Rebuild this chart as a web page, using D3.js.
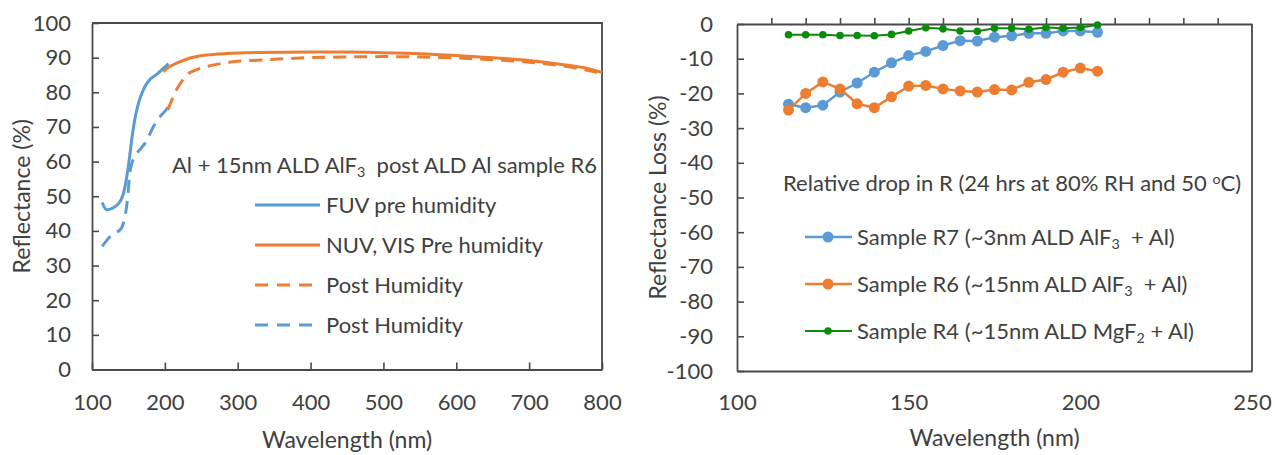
<!DOCTYPE html>
<html><head><meta charset="utf-8">
<script src="https://cdn.jsdelivr.net/npm/d3@7"></script>
<style>
body{margin:0;background:#fff}
text{font-family:Lato,'Open Sans',sans-serif;fill:#404040}
</style>
</head><body>
<svg id="c" width="1275" height="455"></svg>
<script>
// ---------- Left chart data ----------
const fuvPreWl  = [114,120,125,131,136,140,143,146,148,150,152,154,157,160,164,170,175,180,185,190,195,200,205];
const fuvPreR   = [48.2,46.1,46.3,46.9,47.8,49,50.8,53.5,56,58.8,62,65.5,70,73.5,77,80.5,82.5,83.8,84.6,85.4,86.3,87.3,88.3];
const fuvPostWl = [114,120,126,132,138,142,145,147.5,149.5,151.5,154,157,162,168,175,184,193,200,205];
const fuvPostR  = [35.5,37.2,38.6,39.5,40.2,41.5,44,47,51,56,59,60.8,62.5,64,66,70,72.9,74.5,75.8];
const nuvPreWl  = [198,205,216,228,239,260,285,331,400,450,500,550,600,650,700,750,780,800];
const nuvPreR   = [86,87.2,88.4,89.4,90.1,90.8,91.2,91.5,91.6,91.6,91.4,91.1,90.6,90,89.2,87.9,86.9,85.7];
const nuvPostWl = [204,209,214,222,230,243,257,275,294,331,400,450,500,550,600,650,700,750,800];
const nuvPostR  = [74.9,77.5,80,82.8,85,86.5,87.4,88.2,88.8,89.3,90,90.2,90.3,90.2,89.9,89.4,88.7,87.5,85.5];
const leftXTicks = [100,200,300,400,500,600,700,800];
const leftYTicks = [0,10,20,30,40,50,60,70,80,90,100];
const leftLegend = ["FUV pre humidity","NUV, VIS Pre humidity","Post Humidity","Post Humidity"];

// ---------- Right chart data ----------
const lossWl = [115,120,125,130,135,140,145,150,155,160,165,170,175,180,185,190,195,200,205];
const lossR7 = [-23.1,-24.1,-23.4,-19.6,-17.0,-13.9,-11.2,-9.1,-7.9,-6.2,-4.8,-4.9,-3.8,-3.4,-2.7,-2.7,-2.0,-2.0,-2.4];
const lossR6 = [-24.8,-20.0,-16.7,-18.7,-23.0,-24.1,-21.0,-17.9,-17.7,-18.7,-19.3,-19.6,-18.9,-19.0,-16.8,-16.0,-13.9,-12.7,-13.6];
const lossR4 = [-3.1,-3.1,-3.1,-3.3,-3.3,-3.4,-3.0,-2.0,-1.1,-1.4,-2.0,-2.1,-1.2,-1.2,-1.5,-1.0,-1.2,-1.0,-0.3];
const rightXLabels = [100,150,200,250];
const rightXMinor = [110,120,130,140,150,160,170,180,190,200,210,220,230,240];
const rightYTicks = [0,-10,-20,-30,-40,-50,-60,-70,-80,-90,-100];

const BLUE="#5B9BD5", ORANGE="#ED7D31", GREEN="#0B8A0B", AX="#4a4a4a", FS=22, FA=23;
const svg = d3.select("#c");
const plain = d => String(d);

// ================= LEFT =================
const L = {x0:92,x1:602,y0:369.5,y1:23};
const lx = d3.scaleLinear().domain([100,800]).range([L.x0,L.x1]);
const ly = d3.scaleLinear().domain([0,100]).range([L.y0,L.y1]);
const gL = svg.append("g");

function styleAxis(g){
  g.selectAll("path.domain").attr("stroke",AX).attr("stroke-width",1.8);
  g.selectAll(".tick line").attr("stroke",AX).attr("stroke-width",1.6);
  g.selectAll("text").attr("font-family","Lato,'Open Sans',sans-serif").attr("font-size",FS).attr("fill","#404040");
}
gL.append("path").attr("d",`M${L.x0},${L.y1}H${L.x1}V${L.y0}`).attr("fill","none").attr("stroke",AX).attr("stroke-width",1.8);
const gLy = gL.append("g").attr("transform",`translate(${L.x0},0)`)
  .call(d3.axisLeft(ly).tickValues(leftYTicks).tickFormat(plain).tickSizeInner(-7).tickSizeOuter(0).tickPadding(21));
styleAxis(gLy);
const gLx = gL.append("g").attr("transform",`translate(0,${L.y0})`)
  .call(d3.axisBottom(lx).tickValues(leftXTicks).tickFormat(plain).tickSizeInner(-7).tickSizeOuter(0));
styleAxis(gLx);
gLx.selectAll("text").attr("y",32.5).attr("dy","0.35em");

const lineL = d3.line().x(d=>lx(d[0])).y(d=>ly(d[1])).curve(d3.curveMonotoneX);
const zip=(a,b)=>a.map((v,i)=>[v,b[i]]);
const leftSeries = [
  {x:fuvPostWl,y:fuvPostR,c:BLUE,dash:"13,8"},
  {x:nuvPostWl,y:nuvPostR,c:ORANGE,dash:"13,8"},
  {x:fuvPreWl,y:fuvPreR,c:BLUE,dash:null},
  {x:nuvPreWl,y:nuvPreR,c:ORANGE,dash:null}
];
leftSeries.forEach(s=>{
  gL.append("path").attr("d",lineL(zip(s.x,s.y))).attr("fill","none")
    .attr("stroke",s.c).attr("stroke-width",3).attr("stroke-dasharray",s.dash);
});

const t1 = gL.append("text").attr("x",172).attr("y",165).attr("dy","0.35em").attr("font-size",FS).attr("xml:space","preserve");
t1.append("tspan").text("Al + 15nm ALD AlF");
t1.append("tspan").attr("font-size",FS*0.65).attr("dy","0.3em").text("3");
t1.append("tspan").attr("dy","-0.2em").text("  post ALD Al sample R6");
const legL = [{c:BLUE,dash:null},{c:ORANGE,dash:null},{c:ORANGE,dash:"13,9"},{c:BLUE,dash:"13,9"}];
legL.forEach((d,i)=>{
  const y = 205+i*40;
  gL.append("line").attr("x1",255).attr("x2",320).attr("y1",y).attr("y2",y)
    .attr("stroke",d.c).attr("stroke-width",3).attr("stroke-dasharray",d.dash);
  gL.append("text").attr("x",326).attr("y",y).attr("dy","0.35em").attr("font-size",FS).text(leftLegend[i]);
});
gL.append("text").attr("x",(L.x0+L.x1)/2).attr("y",440).attr("dy","0.35em").attr("text-anchor","middle").attr("font-size",FA).text("Wavelength (nm)");
gL.append("text").attr("transform",`translate(22,${(L.y0+L.y1)/2}) rotate(-90)`).attr("dy","0.35em").attr("text-anchor","middle").attr("font-size",FA).text("Reflectance (%)");

// ================= RIGHT =================
const R = {x0:737,x1:1252,y0:371,y1:24};
const rx = d3.scaleLinear().domain([100,250]).range([R.x0,R.x1]);
const ry = d3.scaleLinear().domain([-100,0]).range([R.y0,R.y1]);
const gR = svg.append("g");
gR.append("path").attr("d",`M${R.x1},${R.y1}V${R.y0}`).attr("fill","none").attr("stroke",AX).attr("stroke-width",1.8);
const gRb = gR.append("g").attr("transform",`translate(0,${R.y0})`)
  .call(d3.axisBottom(rx).tickValues(rightXLabels).tickSize(0).tickFormat(plain));
styleAxis(gRb);
gRb.selectAll(".tick line").remove();
gRb.selectAll("text").attr("y",31).attr("dy","0.35em");
const gRt = gR.append("g").attr("transform",`translate(0,${ry(0)})`)
  .call(d3.axisTop(rx).tickValues(rightXMinor).tickSizeInner(6).tickSizeOuter(0).tickFormat(""));
styleAxis(gRt);
const gRy = gR.append("g").attr("transform",`translate(${R.x0},0)`)
  .call(d3.axisLeft(ry).tickValues(rightYTicks).tickFormat(plain).tickSizeInner(-7).tickSizeOuter(0).tickPadding(24));
styleAxis(gRy);

const lineR = d3.line().x(d=>rx(d[0])).y(d=>ry(d[1]));
const rightSeries = [
  {y:lossR7,c:BLUE,r:5.5,w:2.5,name:"Sample R7 (~3nm ALD AlF",sub:"3",tail:"  + Al)"},
  {y:lossR6,c:ORANGE,r:5.5,w:2.5,name:"Sample R6 (~15nm ALD AlF",sub:"3",tail:"  + Al)"},
  {y:lossR4,c:GREEN,r:3.8,w:2,name:"Sample R4 (~15nm ALD MgF",sub:"2",tail:" + Al)"}
];
rightSeries.forEach(s=>{
  const pts = zip(lossWl,s.y);
  gR.append("path").attr("d",lineR(pts)).attr("fill","none").attr("stroke",s.c).attr("stroke-width",s.w);
  gR.selectAll(null).data(pts).enter().append("circle")
    .attr("cx",d=>rx(d[0])).attr("cy",d=>ry(d[1])).attr("r",s.r).attr("fill",s.c);
});
const t2 = gR.append("text").attr("x",783).attr("y",183).attr("dy","0.35em").attr("font-size",FS).attr("xml:space","preserve");
t2.append("tspan").text("Relative drop in R (24 hrs at 80% RH and 50 ");
t2.append("tspan").attr("font-size",FS*0.65).attr("dy","-0.45em").text("o");
t2.append("tspan").attr("dy","0.3em").text("C)");
rightSeries.forEach((s,i)=>{
  const y = [237,284,331][i];
  gR.append("line").attr("x1",805).attr("x2",852).attr("y1",y).attr("y2",y).attr("stroke",s.c).attr("stroke-width",s.w);
  gR.append("circle").attr("cx",828).attr("cy",y).attr("r",s.r).attr("fill",s.c);
  const t = gR.append("text").attr("x",857).attr("y",y).attr("dy","0.35em").attr("font-size",FS).attr("xml:space","preserve");
  t.append("tspan").text(s.name);
  t.append("tspan").attr("font-size",FS*0.65).attr("dy","0.3em").text(s.sub);
  t.append("tspan").attr("dy","-0.2em").text(s.tail);
});
gR.append("text").attr("x",(R.x0+R.x1)/2).attr("y",438).attr("dy","0.35em").attr("text-anchor","middle").attr("font-size",FA).text("Wavelength (nm)");
gR.append("text").attr("transform",`translate(658,${(R.y0+R.y1)/2}) rotate(-90)`).attr("dy","0.35em").attr("text-anchor","middle").attr("font-size",FA).text("Reflectance Loss (%)");
</script>
</body></html>
